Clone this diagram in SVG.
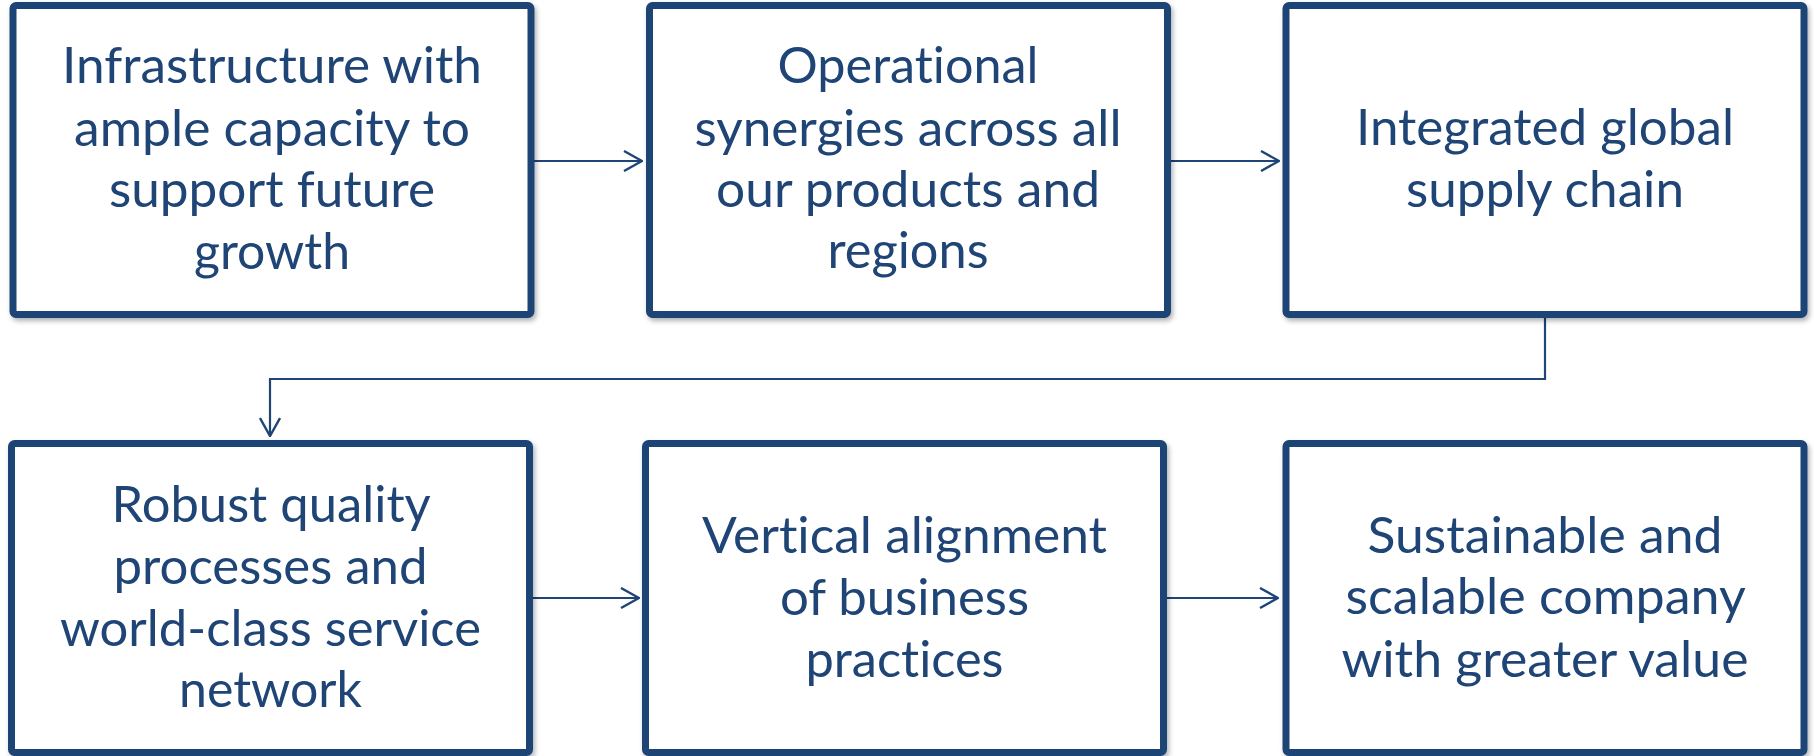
<svg xmlns="http://www.w3.org/2000/svg" width="1814" height="756" viewBox="0 0 1814 756">
  <style>
    .box { fill: #ffffff; stroke: #1F4476; stroke-width: 7; filter: url(#shadow); }
    .label { font-family: Lato, "Open Sans", "Liberation Sans", sans-serif; font-size: 50px; fill: #1F4476; font-variant-ligatures: none; }
    .link { fill: none; stroke: #1F4476; stroke-width: 2.2; marker-end: url(#arrow); }
  </style>
  <defs>
    <filter id="shadow" x="-5%" y="-5%" width="112%" height="115%">
      <feDropShadow dx="2" dy="3" stdDeviation="2.5" flood-color="#000000" flood-opacity="0.3"/>
    </filter>
    <marker id="arrow" viewBox="0 0 20 22" refX="19" refY="11" markerWidth="20" markerHeight="22" markerUnits="userSpaceOnUse" orient="auto">
      <path d="M1,1 L19,11 L1,21" fill="none" stroke="#1F4476" stroke-width="2.4"/>
    </marker>
  </defs>

  <!-- flow connectors -->
  <g id="connectors">
    <path class="link" d="M534,161 H642"/>
    <path class="link" d="M1170,161 H1279"/>
    <path class="link" d="M1545,318 V379 H270 V436"/>
    <path class="link" d="M533,598 H639"/>
    <path class="link" d="M1167,598 H1278"/>
  </g>

  <!-- lines are left-aligned at (centre - length/2) so each stays centred in its box -->
  <g id="infrastructure">
    <rect class="box" x="13" y="5.5" width="518" height="309" rx="3"/>
    <text class="label">
      <tspan x="62" y="83" textLength="420" lengthAdjust="spacingAndGlyphs">Infrastructure with</tspan>
      <tspan x="74" y="146" textLength="396" lengthAdjust="spacingAndGlyphs">ample capacity to</tspan>
      <tspan x="109" y="207" textLength="326" lengthAdjust="spacingAndGlyphs">support future</tspan>
      <tspan x="194" y="269" textLength="156" lengthAdjust="spacingAndGlyphs">growth</tspan>
    </text>
  </g>

  <g id="operational-synergies">
    <rect class="box" x="649.5" y="5.5" width="518" height="309" rx="3"/>
    <text class="label">
      <tspan x="777.5" y="83" textLength="261" lengthAdjust="spacingAndGlyphs">Operational</tspan>
      <tspan x="694.5" y="146" textLength="427" lengthAdjust="spacingAndGlyphs">synergies across all</tspan>
      <tspan x="716" y="207" textLength="384" lengthAdjust="spacingAndGlyphs">our products and</tspan>
      <tspan x="827.5" y="268" textLength="161" lengthAdjust="spacingAndGlyphs">regions</tspan>
    </text>
  </g>

  <g id="supply-chain">
    <rect class="box" x="1286" y="5.5" width="518" height="309" rx="3"/>
    <text class="label">
      <tspan x="1356" y="145" textLength="378" lengthAdjust="spacingAndGlyphs">Integrated global</tspan>
      <tspan x="1406" y="207" textLength="278" lengthAdjust="spacingAndGlyphs">supply chain</tspan>
    </text>
  </g>

  <g id="quality-processes">
    <rect class="box" x="11.5" y="443.5" width="518" height="309" rx="3"/>
    <text class="label">
      <tspan x="111.5" y="522" textLength="318" lengthAdjust="spacingAndGlyphs">Robust quality</tspan>
      <tspan x="113.5" y="584" textLength="314" lengthAdjust="spacingAndGlyphs">processes and</tspan>
      <tspan x="60" y="646" textLength="421" lengthAdjust="spacingAndGlyphs">world-class service</tspan>
      <tspan x="179" y="707" textLength="183" lengthAdjust="spacingAndGlyphs">network</tspan>
    </text>
  </g>

  <g id="vertical-alignment">
    <rect class="box" x="645.5" y="443.5" width="518" height="309" rx="3"/>
    <text class="label">
      <tspan x="702" y="553" textLength="405" lengthAdjust="spacingAndGlyphs">Vertical alignment</tspan>
      <tspan x="780" y="615" textLength="249" lengthAdjust="spacingAndGlyphs">of business</tspan>
      <tspan x="805.5" y="677" textLength="198" lengthAdjust="spacingAndGlyphs">practices</tspan>
    </text>
  </g>

  <g id="sustainable-company">
    <rect class="box" x="1286" y="443.5" width="518" height="309" rx="3"/>
    <text class="label">
      <tspan x="1367.5" y="553" textLength="355" lengthAdjust="spacingAndGlyphs">Sustainable and</tspan>
      <tspan x="1345.5" y="614" textLength="399" lengthAdjust="spacingAndGlyphs">scalable company</tspan>
      <tspan x="1341.5" y="677" textLength="407" lengthAdjust="spacingAndGlyphs">with greater value</tspan>
    </text>
  </g>
</svg>
